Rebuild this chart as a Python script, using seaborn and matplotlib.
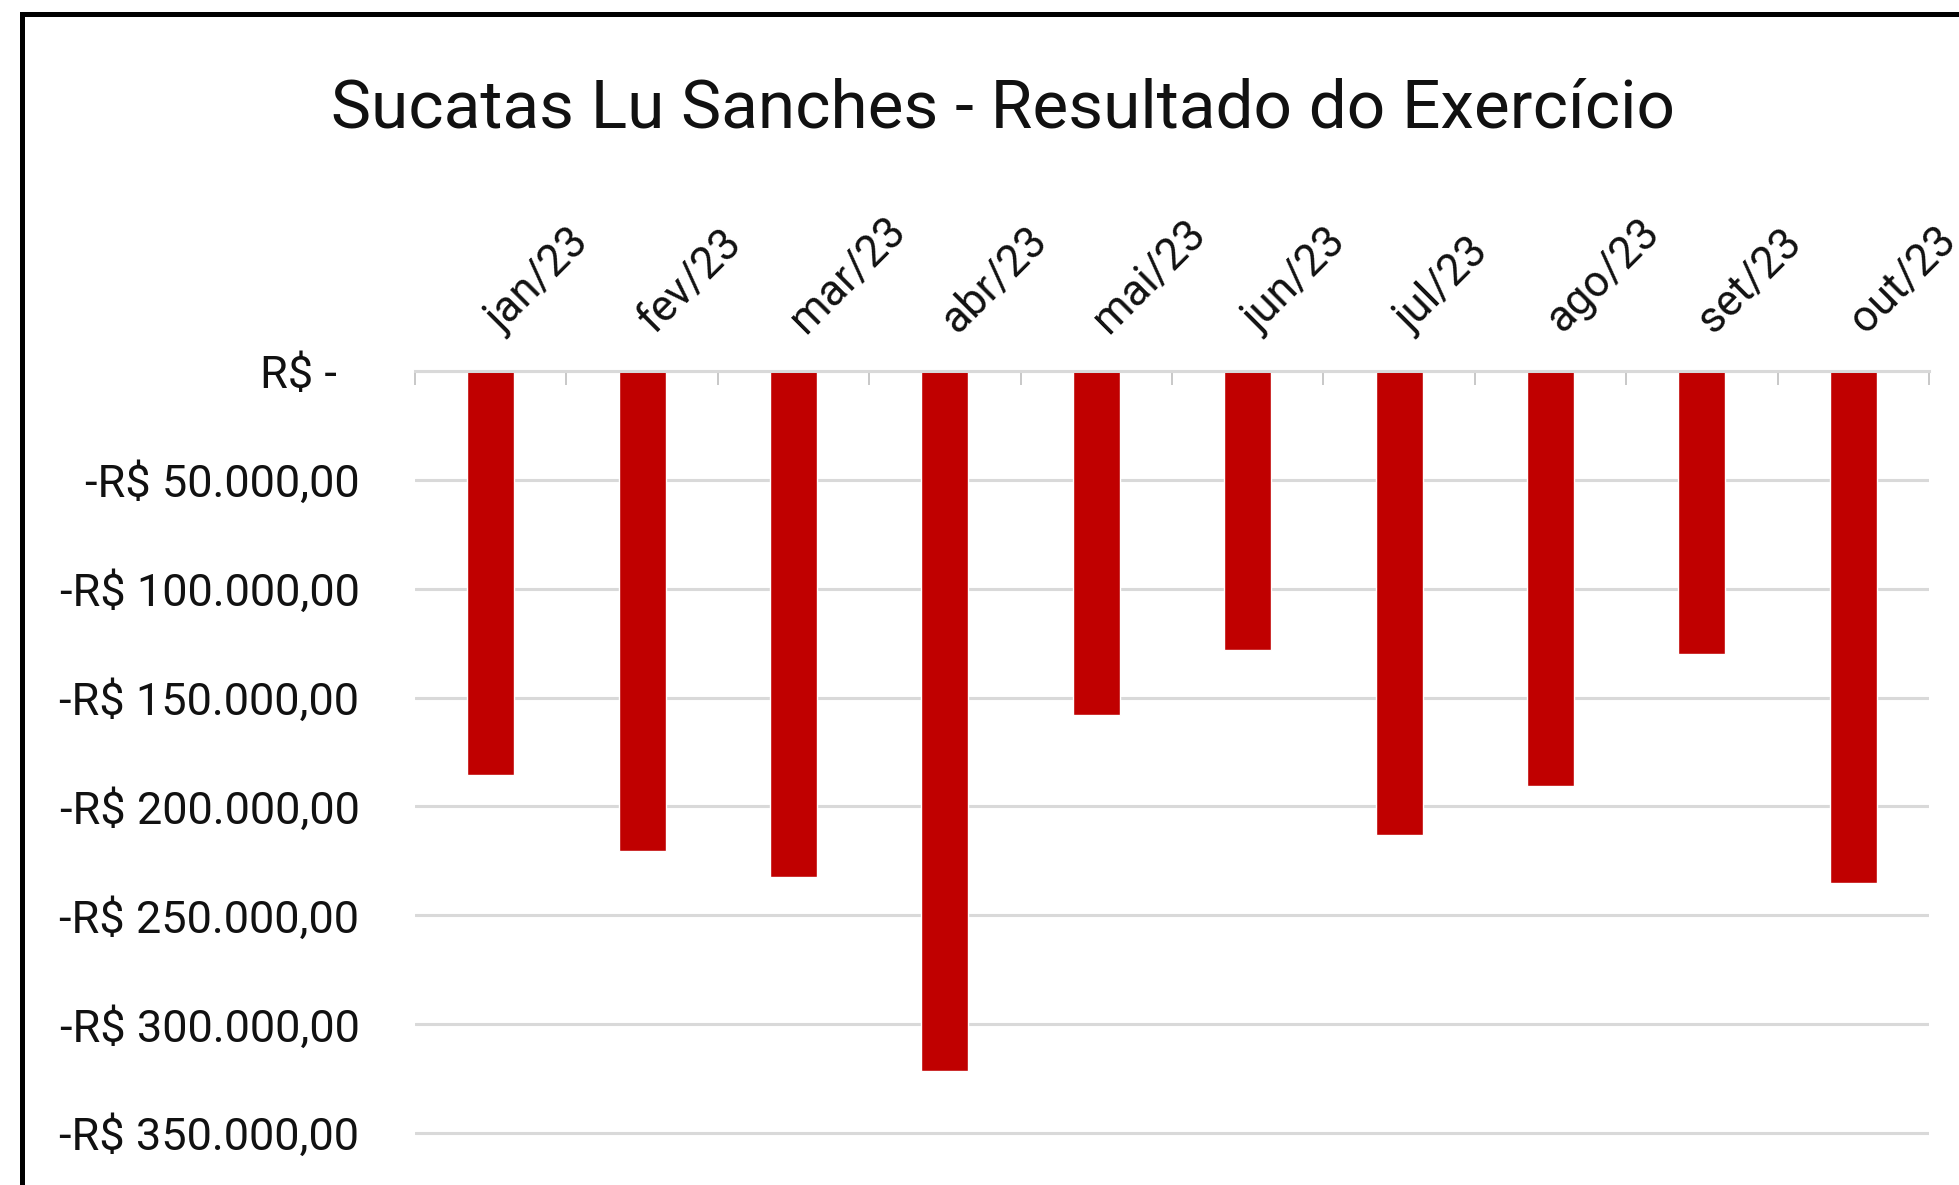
import numpy as np
import pandas as pd
import seaborn as sns
import matplotlib.pyplot as plt
from matplotlib.patches import Rectangle
from matplotlib.ticker import FuncFormatter
from matplotlib.transforms import ScaledTranslation

# dados
meses = ["jan/23", "fev/23", "mar/23", "abr/23", "mai/23",
         "jun/23", "jul/23", "ago/23", "set/23", "out/23"]
resultado = [-185500, -220500, -232500, -321500, -158000,
             -128000, -213000, -190500, -130000, -235000]
y_ticks = [0, -50000, -100000, -150000, -200000, -250000, -300000, -350000]

titulo = "Sucatas Lu Sanches - Resultado do Exercício"

df = pd.DataFrame({"mes": meses, "resultado": resultado})

sns.set_style("white")
plt.rcParams['font.family'] = ['Roboto', 'DejaVu Sans']

W, H = 1959, 1185
fig = plt.figure(figsize=(W / 100, H / 100), dpi=100)
ax = fig.add_axes([415 / W, 0, (1929 - 415) / W, 1 - 371 / H])

sns.barplot(data=df, x="mes", y="resultado", color="#C00000",
            saturation=1, width=0.31, ax=ax)

ax.set_xlim(-0.5, 9.5)
ax.set_ylim(-373900, 0)
ax.set_xlabel("")
ax.set_ylabel("")


def moeda(v, pos=None):
    if v == 0:
        return "R$ -  "
    s = "{:,.2f}".format(abs(v)).replace(",", "X").replace(".", ",").replace("X", ".")
    return "-R$ " + s


ax.set_yticks(y_ticks)
ax.yaxis.set_major_formatter(FuncFormatter(moeda))
ax.tick_params(axis="y", length=0, pad=40, labelsize=32.5, labelcolor="#111111")
ax.yaxis.grid(True, color="#D9D9D9", lw=2.2)
ax.set_axisbelow(True)

# eixo de categorias no topo
ax.xaxis.tick_top()
ax.set_xticks(range(len(meses)))
ax.set_xticklabels(meses, rotation=45, ha="left", va="bottom",
                   rotation_mode="anchor")
ax.set_xticks(np.arange(-0.5, len(meses), 1.0), minor=True)
ax.tick_params(axis="x", which="major", length=0, pad=22,
               labelsize=31.5, labelcolor="#111111")
ax.tick_params(axis="x", which="minor", direction="in", length=10,
               width=1.2, color="#BFBFBF", top=True, bottom=False)
desloc = ScaledTranslation(0.18, 0, fig.dpi_scale_trans)
for lbl in ax.get_xticklabels():
    lbl.set_transform(lbl.get_transform() + desloc)

for s in ["left", "right", "bottom"]:
    ax.spines[s].set_visible(False)
ax.spines["top"].set_color("#D9D9D9")
ax.spines["top"].set_linewidth(2.2)

fig.text(1003 / W, 1 - 127.5 / H, titulo, ha="center", va="baseline",
         fontsize=48.6, color="#111111")

# moldura do grafico
fig.patches.append(Rectangle((21.5 / W, -0.1), 1.2, 1.1 - 14.5 / H,
                             transform=fig.transFigure, fill=False,
                             ec="black", lw=3.6))

fig.savefig("out.png", dpi=100)
